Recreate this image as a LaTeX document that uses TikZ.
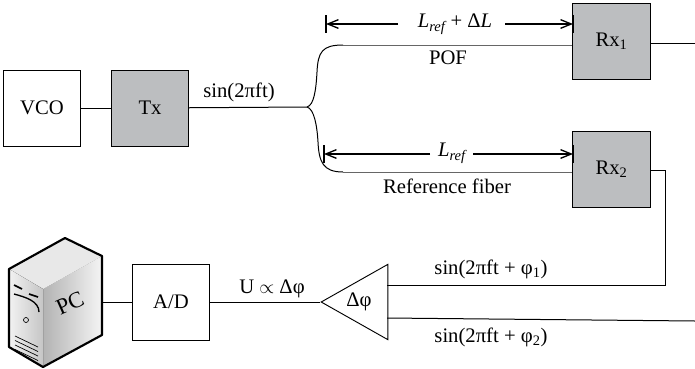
\documentclass[tikz,border=0pt]{standalone}
\usepackage{fontspec}
\setmainfont{Liberation Serif}
\usetikzlibrary{arrows.meta,shapes.geometric}
\definecolor{boxgray}{HTML}{BCBEC0}
\tikzset{
    block/.style={draw,line width=0.7pt,minimum width=58pt,minimum height=57pt,inner sep=0pt},
    rxblock/.style={block,fill=boxgray},
    wire/.style={line width=0.75pt},
    dimline/.style={line width=1pt,-{Straight Barb[length=8pt,width=6.5pt]}},
    lbl/.style={inner sep=1pt,font=\fontsize{15.5}{18}\selectfont},
}
\begin{document}
\begin{tikzpicture}[x=0.75pt,y=-0.75pt]
    \useasboundingbox (0,0) rectangle (695,368);
    % blocks
    \node[block,lbl,inner sep=0pt] (vco) at (42,108) {VCO};
    \node[rxblock,lbl,inner sep=0pt] (tx) at (150,108) {Tx};
    \node[rxblock,lbl,inner sep=0pt] (rxa) at (611.5,41.5) {Rx\textsubscript{1}};
    \node[rxblock,lbl,inner sep=0pt] (rxb) at (611.5,169) {Rx\textsubscript{2}};
    \node[block,lbl,inner sep=0pt] (adc) at (171,302) {A/D};
    \node[draw,isosceles triangle,shape border rotate=180,isosceles triangle stretches,anchor=apex,
        line width=0.7pt,minimum width=56.5pt,minimum height=50pt,inner sep=0pt] (diff) at (320,302) {};
    \node[lbl] (difflbl) at (359,302) {Δφ};
    % server
    \coordinate (pca) at (65,238);
    \coordinate (pcb) at (102,256);
    \coordinate (pcc) at (102,335);
    \coordinate (pcd) at (43,367);
    \coordinate (pce) at (9,347);
    \coordinate (pcf) at (9,269);
    \coordinate (pcg) at (43,289);
    \fill[left color=gray!60,right color=gray!8] (pcg) -- (pcb) -- (pcc) -- (pcd) -- cycle;
    \fill[gray!18] (pca) -- (pcb) -- (pcg) -- (pcf) -- cycle;
    \fill[left color=gray!10,right color=gray!45] (pcf) -- (pcg) -- (pcd) -- (pce) -- cycle;
    \draw[line width=1.6pt,line join=round] (pca) -- (pcb) -- (pcc) -- (pcd) -- (pce) -- (pcf) -- cycle;
    \draw[line width=1.2pt] (14,285) -- (22,289);
    \draw[line width=1.2pt] (29,294) -- (38,297);
    \draw[line width=1pt] (14,294) .. controls (25,297) and (39,301) .. (39,312);
    \draw[line width=0.5pt] (26,320) circle (2.5);
    \foreach \i in {0,1,2,3}
    \draw[line width=0.5pt] (15,336+\i*4.5) -- (38,347+\i*4.5);
    \node[inner sep=0pt,rotate=24,font=\fontsize{17}{20}\selectfont] (pc) at (70,303) {PC};
    \coordinate (pcout) at (102,302);
    % wires
    \draw[wire] (vco) -- (tx);
    \draw[wire] (pcout) -- (adc);
    \draw[wire] (adc) -- (diff.apex);
    \coordinate (split) at (307,107);
    \coordinate (topend) at (343,45);
    \coordinate (botend) at (343,172);
    \draw[wire] (tx) -- (split);
    \draw[wire] (split) .. controls (314,105) and (316,90) .. (317,72) .. controls (318,52) and (322,45) .. (topend);
    \draw[wire] (split) .. controls (314,109) and (317,125) .. (318,142) .. controls (319,162) and (323,172) .. (botend);
    \draw[wire,black!60] (topend) -- (rxa.west |- topend);
    \draw[wire,black!60] (botend) -- (rxb.west |- botend);
    \coordinate (rxaout) at (695,43);
    \coordinate (rxbcor) at (665,170);
    \coordinate (diffcor) at (665,285);
    \coordinate (diffa) at (387,285);
    \coordinate (diffb) at (387,318);
    \coordinate (lowend) at (695,321);
    \draw[wire] (rxa.east |- rxaout) -- (rxaout);
    \draw[wire] (rxb.east |- rxbcor) -- (rxbcor) -- (diffcor) -- (diffa);
    \draw[wire] (diffb) -- (lowend);
    % lengths
    \node[lbl] (dima) at (455,24) {\textit{L\textsubscript{ref}} + Δ\textit{L}};
    \node[lbl] (dimb) at (452,153) {\textit{L\textsubscript{ref}}};
    \coordinate (ticka) at (326,24);
    \coordinate (tickb) at (324,154);
    \coordinate (rxticka) at (573,24);
    \coordinate (rxtickb) at (573,154);
    \draw[dimline] (398,24) -- (ticka);
    \draw[dimline] (505,24) -- (rxticka);
    \draw[dimline] (430,154) -- (tickb);
    \draw[dimline] (473,154) -- (rxtickb);
    \foreach \p in {ticka,tickb,rxticka,rxtickb}
    \draw[line width=0.8pt] ([yshift=6.5pt]\p) -- ([yshift=-6.5pt]\p);
    % labels
    \node[lbl] (sinlbl) at (239,92) {sin(2πft)};
    \node[lbl] (pof) at (448,58) {POF};
    \node[lbl] (reflbl) at (447,186) {Reference fiber};
    \node[lbl] (ulbl) at (272,289) {U $\propto$ Δφ};
    \node[lbl] (phia) at (491,269) {sin(2πft + φ\textsubscript{1})};
    \node[lbl] (phib) at (491,337) {sin(2πft + φ\textsubscript{2})};
\end{tikzpicture}
\end{document}
